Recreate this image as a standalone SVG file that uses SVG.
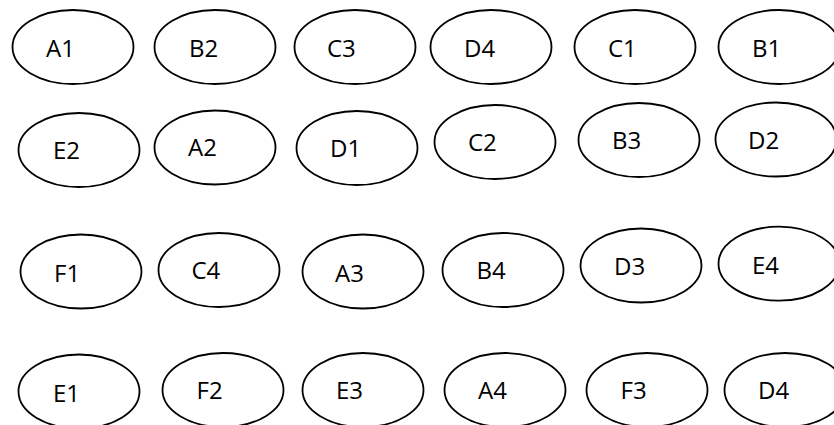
<svg xmlns="http://www.w3.org/2000/svg" width="834" height="425" viewBox="0 0 834 425">
<style>
.n ellipse{fill:#fff;stroke:#000;stroke-width:1.8}
.n text{font-family:"Open Sans","Liberation Sans",sans-serif;font-size:24px;fill:#000}
</style>
<rect width="834" height="425" fill="#fff"/>
<g id="connectors"/>
<g id="A1" class="n"><ellipse cx="73" cy="47" rx="60.5" ry="37"/><text x="46" y="57">A1</text></g>
<g id="B2" class="n"><ellipse cx="215" cy="47" rx="60.5" ry="37"/><text x="189" y="57">B2</text></g>
<g id="C3" class="n"><ellipse cx="355" cy="47" rx="60.5" ry="37"/><text x="327" y="57">C3</text></g>
<g id="D4a" class="n"><ellipse cx="491" cy="47" rx="60.5" ry="37"/><text x="464" y="57">D4</text></g>
<g id="C1" class="n"><ellipse cx="635" cy="47" rx="60.5" ry="37"/><text x="608" y="57">C1</text></g>
<g id="B1" class="n"><ellipse cx="779" cy="47" rx="60.5" ry="37"/><text x="752" y="57">B1</text></g>
<g id="E2" class="n"><ellipse cx="79" cy="150" rx="60.5" ry="37"/><text x="53" y="159">E2</text></g>
<g id="A2" class="n"><ellipse cx="215" cy="147.5" rx="60.5" ry="37"/><text x="188" y="156">A2</text></g>
<g id="D1" class="n"><ellipse cx="357" cy="148" rx="60.5" ry="37"/><text x="330" y="157">D1</text></g>
<g id="C2" class="n"><ellipse cx="495" cy="142" rx="60.5" ry="37"/><text x="468" y="151">C2</text></g>
<g id="B3" class="n"><ellipse cx="639" cy="140" rx="60.5" ry="37"/><text x="612" y="149">B3</text></g>
<g id="D2" class="n"><ellipse cx="776" cy="139.5" rx="60.5" ry="37"/><text x="748" y="149">D2</text></g>
<g id="F1" class="n"><ellipse cx="81" cy="271.5" rx="60.5" ry="37"/><text x="54" y="281.5">F1</text></g>
<g id="C4" class="n"><ellipse cx="219" cy="270" rx="60.5" ry="37"/><text x="191.5" y="279">C4</text></g>
<g id="A3" class="n"><ellipse cx="363" cy="271.5" rx="60.5" ry="37"/><text x="335" y="282">A3</text></g>
<g id="B4" class="n"><ellipse cx="503" cy="270" rx="60.5" ry="37"/><text x="476.5" y="279">B4</text></g>
<g id="D3" class="n"><ellipse cx="641" cy="265.5" rx="60.5" ry="37"/><text x="614" y="274.5">D3</text></g>
<g id="E4" class="n"><ellipse cx="779" cy="263.7" rx="60.5" ry="37"/><text x="752" y="273.5">E4</text></g>
<g id="E1" class="n"><ellipse cx="79" cy="391.5" rx="60.5" ry="37"/><text x="53" y="401.5">E1</text></g>
<g id="F2" class="n"><ellipse cx="223" cy="390" rx="60.5" ry="37"/><text x="196.5" y="399">F2</text></g>
<g id="E3" class="n"><ellipse cx="363" cy="390" rx="60.5" ry="37"/><text x="336" y="399">E3</text></g>
<g id="A4" class="n"><ellipse cx="505" cy="390" rx="60.5" ry="37"/><text x="478" y="399">A4</text></g>
<g id="F3" class="n"><ellipse cx="647" cy="390" rx="60.5" ry="37"/><text x="620.5" y="399">F3</text></g>
<g id="D4b" class="n"><ellipse cx="785" cy="390" rx="60.5" ry="37"/><text x="758" y="399">D4</text></g>
</svg>
